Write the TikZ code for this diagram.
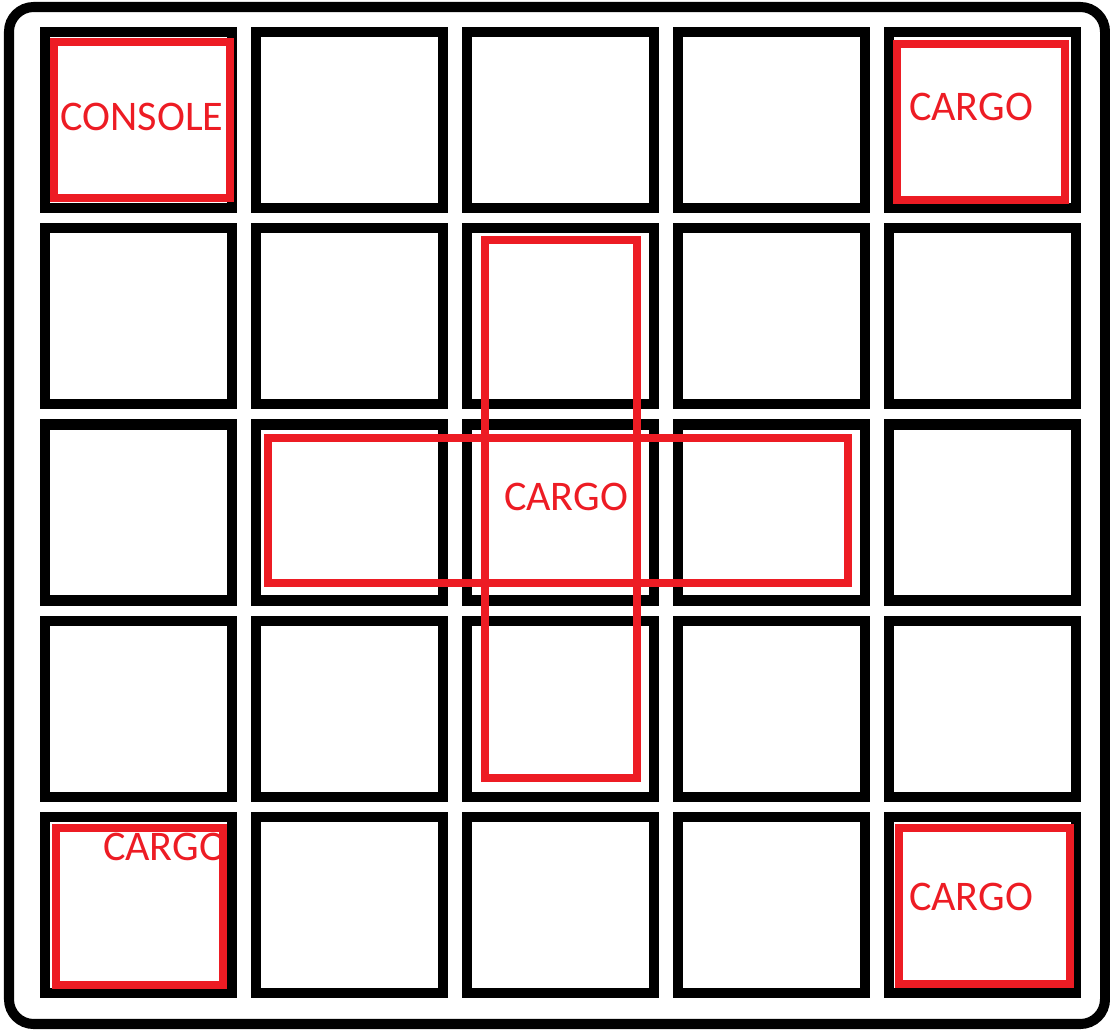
\documentclass[tikz,border=0pt]{standalone}
\usepackage{fontspec}
\setmainfont{Carlito}
\usepackage{tikz}
\usetikzlibrary{positioning}
\definecolor{CargoRed}{RGB}{237,28,36}

\begin{document}
\begin{tikzpicture}[x=0.02cm,y=-0.02cm,
	cellbox/.style={draw=black,line width=5.7pt},
	zonebox/.style={draw=CargoRed,line width=4pt},
	zonelabel/.style={text=CargoRed,inner sep=0pt,font=\fontsize{24}{28}\selectfont}]
			\useasboundingbox (0,0) rectangle (1110,1031);
			% outer frame
			\draw[line width=5.7pt,rounded corners=14pt] (9,7) rectangle (1105,1024);
			% 5x5 grid of bays
			\foreach \i in {0,...,4}
				\foreach \j in {0,...,4}
					\draw[cellbox] ({45+211*\i},{32+196.25*\j}) rectangle ++(187,176);
			% marked zones
			\draw[zonebox] (54,42) rectangle (230,198);
			\draw[zonebox] (897,44) rectangle (1065,200);
			\draw[zonebox] (56,828) rectangle (223,985);
			\draw[zonebox] (899,828) rectangle (1070,984);
			\draw[zonebox] (485,240) rectangle (637,778);
			\draw[zonebox] (268,438) rectangle (848,583);
			\node[zonelabel] (console) at (142,117) {CONSOLE};
			\node[zonelabel] (cargoNE) at (971,107) {CARGO};
			\node[zonelabel] (cargoMid) at (566,497) {CARGO};
			\node[zonelabel] (cargoSW) at (165,847) {CARGO};
			\node[zonelabel] (cargoSE) at (971,897) {CARGO};
		\end{tikzpicture}
\end{document}
